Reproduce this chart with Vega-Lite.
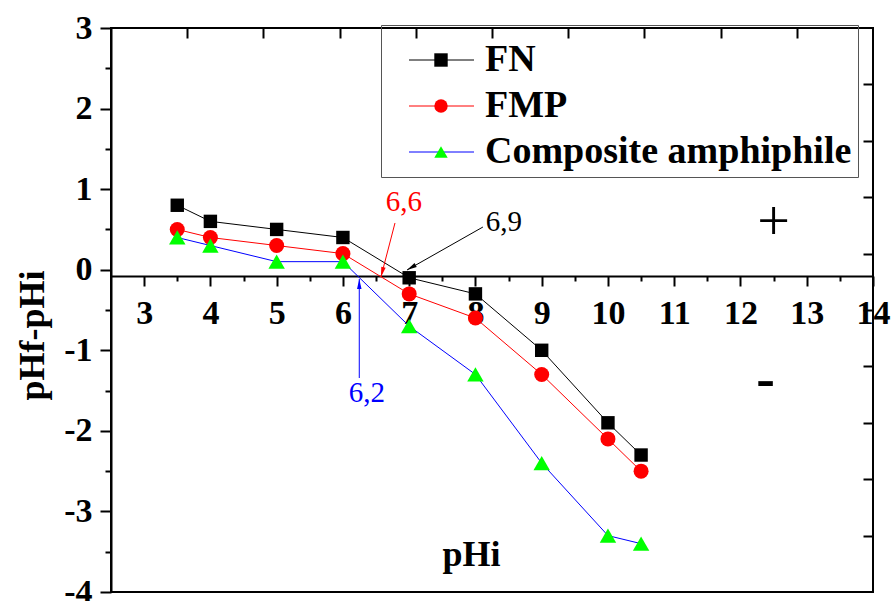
{
  "$schema": "https://vega.github.io/schema/vega-lite/v6.json",
  "width": 762,
  "height": 564,
  "autosize": {"type": "none"},
  "padding": {"left": 111, "top": 28, "right": 18, "bottom": 9},
  "background": "white",
  "config": {
    "font": "Liberation Serif",
    "view": {"stroke": "black", "strokeWidth": 2},
    "axis": {"grid": false, "labelFont": "Liberation Serif", "titleFont": "Liberation Serif"},
    "legend": {"labelFont": "Liberation Serif", "titleFont": "Liberation Serif"}
  },
  "datasets": {
    "series": [
      {"x": 3.5, "y": 0.8, "s": "FN"},
      {"x": 4, "y": 0.6, "s": "FN"},
      {"x": 5, "y": 0.5, "s": "FN"},
      {"x": 6, "y": 0.4, "s": "FN"},
      {"x": 7, "y": -0.1, "s": "FN"},
      {"x": 8, "y": -0.3, "s": "FN"},
      {"x": 9, "y": -1.0, "s": "FN"},
      {"x": 10, "y": -1.9, "s": "FN"},
      {"x": 10.5, "y": -2.3, "s": "FN"},
      {"x": 3.5, "y": 0.5, "s": "FMP"},
      {"x": 4, "y": 0.4, "s": "FMP"},
      {"x": 5, "y": 0.3, "s": "FMP"},
      {"x": 6, "y": 0.2, "s": "FMP"},
      {"x": 7, "y": -0.3, "s": "FMP"},
      {"x": 8, "y": -0.6, "s": "FMP"},
      {"x": 9, "y": -1.3, "s": "FMP"},
      {"x": 10, "y": -2.1, "s": "FMP"},
      {"x": 10.5, "y": -2.5, "s": "FMP"},
      {"x": 3.5, "y": 0.4, "s": "Composite amphiphile"},
      {"x": 4, "y": 0.3, "s": "Composite amphiphile"},
      {"x": 5, "y": 0.1, "s": "Composite amphiphile"},
      {"x": 6, "y": 0.1, "s": "Composite amphiphile"},
      {"x": 7, "y": -0.7, "s": "Composite amphiphile"},
      {"x": 8, "y": -1.3, "s": "Composite amphiphile"},
      {"x": 9, "y": -2.4, "s": "Composite amphiphile"},
      {"x": 10, "y": -3.3, "s": "Composite amphiphile"},
      {"x": 10.5, "y": -3.4, "s": "Composite amphiphile"}
    ],
    "arrows": [
      {"x": 6.786, "y": 0.58, "x2": 6.574, "y2": -0.09, "s": "FMP"},
      {"x": 8.113, "y": 0.53, "x2": 6.967, "y2": -0.004, "s": "FN"},
      {"x": 6.247, "y": -1.344, "x2": 6.247, "y2": -0.115, "s": "Composite amphiphile"}
    ],
    "heads": [
      {"x": 6.593, "y": -0.03, "angle": 194.5, "s": "FMP"},
      {"x": 7.032, "y": 0.027, "angle": 240.6, "s": "FN"},
      {"x": 6.247, "y": -0.177, "angle": 0, "s": "Composite amphiphile"}
    ],
    "notes": [
      {"x": 6.921, "y": 0.84, "label": "6,6", "s": "FMP"},
      {"x": 8.43, "y": 0.586, "label": "6,9", "s": "FN"},
      {"x": 6.363, "y": -1.536, "label": "6,2", "s": "Composite amphiphile"}
    ],
    "plus": [{"x": 12.5, "y": 0.58, "label": "+"}],
    "minus": [{"x": 12.38, "y": -1.37, "label": "-"}],
    "frame": [{"t": 0}, {"t": 10}]
  },
  "layer": [
    {
      "encoding": {
        "x": {
          "field": "x",
          "type": "quantitative",
          "scale": {"domain": [2.5, 14], "nice": false, "zero": false},
          "axis": {
            "orient": "bottom",
            "offset": -316,
            "values": [3, 3.5, 4, 4.5, 5, 5.5, 6, 6.5, 7, 7.5, 8, 8.5, 9, 9.5, 10, 10.5, 11, 11.5, 12, 12.5, 13, 13.5, 14],
            "labelExpr": "datum.value % 1 === 0 ? toString(datum.value) : ''",
            "tickSize": {"condition": {"test": "datum.value % 1 !== 0", "value": 5}, "value": 10},
            "tickWidth": 2,
            "tickColor": "black",
            "domainColor": "black",
            "domainWidth": 2,
            "labelFont": "Liberation Serif",
            "labelFontSize": 34,
            "labelFontWeight": "bold",
            "labelColor": "black",
            "labelPadding": 10,
            "labelOverlap": false,
            "labelFlush": false,
            "title": "pHi",
            "titleFont": "Liberation Serif",
            "titleFontSize": 36,
            "titleFontWeight": "bold",
            "titleColor": "black",
            "titleX": 360,
            "titleY": 289,
            "titleAlign": "center",
            "titleBaseline": "alphabetic"
          }
        },
        "y": {
          "field": "y",
          "type": "quantitative",
          "scale": {"domain": [-4, 3], "nice": false, "zero": false},
          "axis": {
            "orient": "left",
            "values": [-4, -3.5, -3, -2.5, -2, -1.5, -1, -0.5, 0, 0.5, 1, 1.5, 2, 2.5, 3],
            "labelExpr": "datum.value % 1 === 0 ? toString(datum.value) : ''",
            "tickSize": {"condition": {"test": "datum.value % 1 !== 0", "value": 6}, "value": 11},
            "tickWidth": 2,
            "tickColor": "black",
            "domainColor": "black",
            "domainWidth": 2,
            "labelFont": "Liberation Serif",
            "labelFontSize": 34,
            "labelFontWeight": "bold",
            "labelColor": "black",
            "labelPadding": 8,
            "labelOverlap": false,
            "labelFlush": false,
            "title": "pHf-pHi",
            "titleFont": "Liberation Serif",
            "titleFontSize": 36,
            "titleFontWeight": "bold",
            "titleColor": "black",
            "titleAngle": 270,
            "titleX": -68,
            "titleY": 307,
            "titleAlign": "center",
            "titleBaseline": "alphabetic"
          }
        }
      },
      "layer": [
        {
          "data": {"name": "series"},
          "mark": {"type": "line", "strokeWidth": 1},
          "encoding": {
            "stroke": {
              "field": "s",
              "type": "nominal",
              "sort": ["FN", "FMP", "Composite amphiphile"],
              "scale": {"range": ["#000000", "#ff0000", "#0000ff"]},
              "legend": {
                "orient": "none",
                "legendX": 270,
                "legendY": -3,
                "title": " ",
                "titleFontSize": 6,
                "titlePadding": 4,
                "padding": 6,
                "strokeColor": "#555555",
                "symbolType": "M-3.25,0H3.25",
                "symbolSize": 400,
                "symbolStrokeWidth": 1,
                "symbolOffset": 35.5,
                "labelOffset": 24.5,
                "labelFont": "Liberation Serif",
                "labelFontSize": 38,
                "labelFontWeight": "bold",
                "labelColor": "black",
                "labelLimit": 600,
                "rowPadding": 8,
                "zindex": 1
              }
            }
          }
        },
        {
          "data": {"name": "series"},
          "mark": {"type": "point", "filled": true, "opacity": 1},
          "encoding": {
            "fill": {
              "field": "s",
              "type": "nominal",
              "sort": ["FN", "FMP", "Composite amphiphile"],
              "scale": {"domain": ["FN", "FMP", "Composite amphiphile"], "range": ["#000000", "#ff0000", "#00ff00"]},
              "legend": {
                "orient": "none",
                "legendX": 270,
                "legendY": -3,
                "title": " ",
                "titleFontSize": 6,
                "titlePadding": 4,
                "padding": 6,
                "symbolSize": 180,
                "symbolStrokeWidth": 0,
                "symbolOffset": 35,
                "labelOffset": 24.5,
                "labelFont": "Liberation Serif",
                "labelFontSize": 38,
                "labelFontWeight": "bold",
                "labelOpacity": 0,
                "labelLimit": 600,
                "rowPadding": 8,
                "zindex": 2
              }
            },
            "shape": {
              "field": "s",
              "type": "nominal",
              "sort": ["FN", "FMP", "Composite amphiphile"],
              "scale": {"domain": ["FN", "FMP", "Composite amphiphile"], "range": ["square", "circle", "triangle-up"]},
              "legend": {
                "orient": "none",
                "legendX": 270,
                "legendY": -3,
                "title": " ",
                "titleFontSize": 6,
                "titlePadding": 4,
                "padding": 6,
                "symbolSize": 180,
                "symbolStrokeWidth": 0,
                "symbolOffset": 35,
                "labelOffset": 24.5,
                "labelFont": "Liberation Serif",
                "labelFontSize": 38,
                "labelFontWeight": "bold",
                "labelOpacity": 0,
                "labelLimit": 600,
                "rowPadding": 8,
                "zindex": 2
              }
            },
            "size": {
              "field": "s",
              "type": "nominal",
              "scale": {"domain": ["Composite amphiphile", "FMP", "FN"], "range": [270, 180, 150]},
              "legend": null
            }
          }
        },
        {
          "data": {"name": "arrows"},
          "mark": {"type": "rule", "strokeWidth": 1},
          "encoding": {
            "x2": {"field": "x2"},
            "y2": {"field": "y2"},
            "color": {
              "field": "s",
              "type": "nominal",
              "scale": {"domain": ["FN", "FMP", "Composite amphiphile"], "range": ["#000000", "#ff0000", "#0000ff"]},
              "legend": null
            }
          }
        },
        {
          "data": {"name": "heads"},
          "mark": {"type": "point", "filled": true, "opacity": 1, "shape": "M0,-1L-0.45,1L0.45,1Z", "size": 100},
          "encoding": {
            "angle": {"field": "angle", "type": "quantitative", "scale": null},
            "color": {
              "field": "s",
              "type": "nominal",
              "scale": {"domain": ["FN", "FMP", "Composite amphiphile"], "range": ["#000000", "#ff0000", "#0000ff"]},
              "legend": null
            }
          }
        },
        {
          "data": {"name": "notes"},
          "mark": {"type": "text", "font": "Liberation Serif", "fontSize": 29, "align": "center", "baseline": "middle"},
          "encoding": {
            "text": {"field": "label"},
            "color": {
              "field": "s",
              "type": "nominal",
              "scale": {"domain": ["FN", "FMP", "Composite amphiphile"], "range": ["#000000", "#ff0000", "#0000ff"]},
              "legend": null
            }
          }
        },
        {
          "data": {"name": "plus"},
          "mark": {"type": "text", "font": "Liberation Serif", "fontSize": 58, "align": "center", "baseline": "middle", "color": "black"},
          "encoding": {"text": {"field": "label"}}
        },
        {
          "data": {"name": "minus"},
          "mark": {"type": "text", "font": "Liberation Serif", "fontSize": 56, "fontWeight": "bold", "align": "center", "baseline": "middle", "color": "black"},
          "encoding": {"text": {"field": "label"}}
        }
      ]
    },
    {
      "data": {"name": "frame"},
      "mark": {"type": "point", "opacity": 0},
      "encoding": {
        "x": {
          "field": "t",
          "type": "quantitative",
          "scale": {"domain": [0, 10], "nice": false, "zero": false},
          "axis": {"orient": "top", "values": [1, 2, 3, 4, 5, 6, 7, 8, 9], "labels": false, "domain": false, "tickSize": -10, "tickWidth": 2, "tickColor": "black", "title": null}
        },
        "y": {
          "field": "t",
          "type": "quantitative",
          "scale": {"domain": [0, 10], "nice": false, "zero": false},
          "axis": {"orient": "right", "values": [1, 2, 3, 4, 5, 6, 7, 8, 9], "labels": false, "domain": false, "tickSize": -10, "tickWidth": 2, "tickColor": "black", "title": null}
        }
      }
    }
  ],
  "resolve": {"scale": {"x": "independent", "y": "independent"}}
}
